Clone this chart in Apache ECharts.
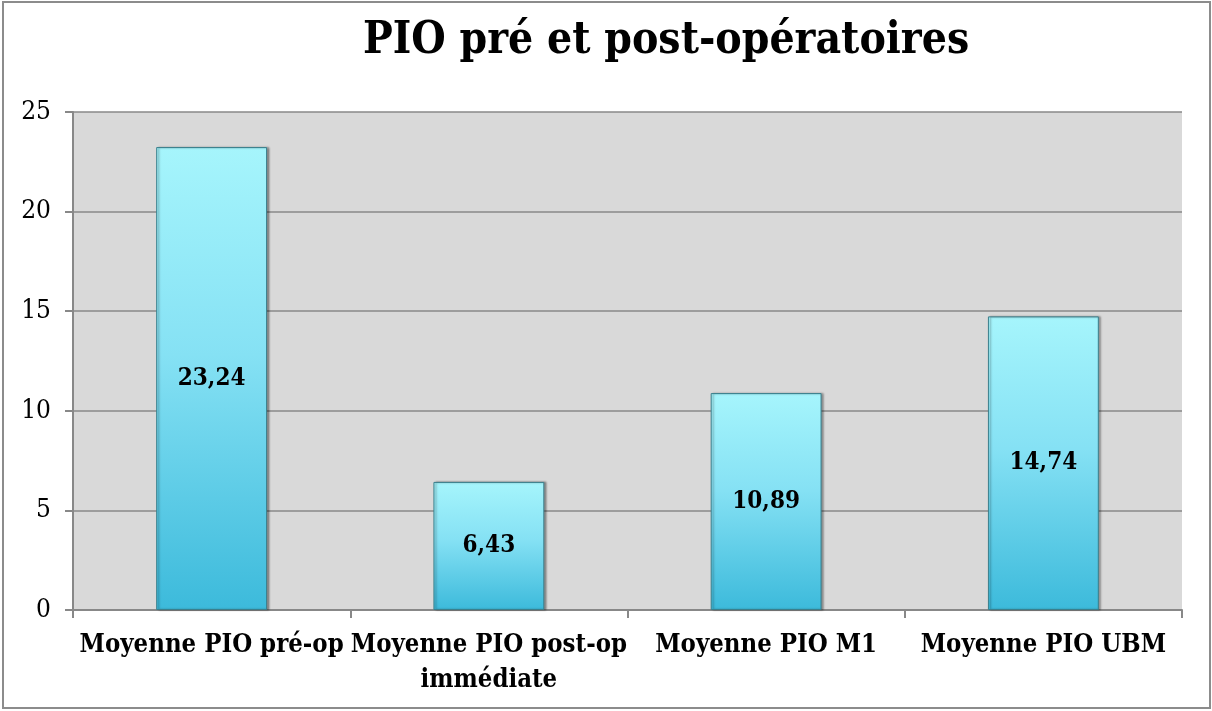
<!DOCTYPE html>
<html>
<head>
<meta charset="utf-8">
<script src="https://cdn.jsdelivr.net/npm/echarts@6/dist/echarts.min.js"></script>
<style>html,body{margin:0;padding:0;background:#fff}#c{width:1212px;height:711px}</style>
</head>
<body>
<div id="c"></div>
<script>
const titleText = 'PIO pré et post-opératoires';
const categories = ['Moyenne PIO pré-op', 'Moyenne PIO post-op\nimmédiate', 'Moyenne PIO M1', 'Moyenne PIO UBM'];
const values = [23.24, 6.43, 10.89, 14.74];
const yMin = 0, yMax = 25, yStep = 5;

const serif = '"DejaVu Serif Condensed", "DejaVu Serif", "Liberation Serif", serif';
const chart = echarts.init(document.getElementById('c'));
chart.setOption({
  backgroundColor: '#ffffff',
  animation: false,
  title: {
    text: titleText, left: 358, top: 15,
    textStyle: { fontFamily: serif, fontWeight: 'bold', fontSize: 44, color: '#000' }
  },
  graphic: [{
    type: 'rect', shape: { x: 3, y: 2, width: 1207, height: 706 },
    style: { fill: 'none', stroke: '#8c8c8c', lineWidth: 2 }, z: 100
  }],
  grid: { left: 73, right: 30, top: 112, bottom: 101, show: true, backgroundColor: '#d9d9d9', borderWidth: 0 },
  xAxis: {
    type: 'category', data: categories,
    axisLine: { lineStyle: { color: '#888', width: 2 } },
    axisTick: { show: true, length: 8, lineStyle: { color: '#888', width: 2 } },
    axisLabel: { fontFamily: serif, fontWeight: 'bold', fontSize: 25.5, color: '#000', margin: 18, lineHeight: 35, interval: 0 }
  },
  yAxis: {
    type: 'value', min: yMin, max: yMax, interval: yStep,
    axisLine: { show: true, lineStyle: { color: '#888', width: 2 } },
    axisTick: { show: true, length: 8, lineStyle: { color: '#888', width: 2 } },
    splitLine: { lineStyle: { color: '#888', width: 1.5 } },
    axisLabel: { fontFamily: serif, fontSize: 26, color: '#000', margin: 22,
      formatter: v => String(v).replace('.', ',') }
  },
  series: [{
    type: 'bar', data: values, barWidth: '40%',
    itemStyle: {
      color: new echarts.graphic.LinearGradient(0, 0, 0, 1, [
        { offset: 0, color: '#a6f5fc' },
        { offset: 0.45, color: '#85e1f4' },
        { offset: 1, color: '#3cbadb' }
      ]),
      borderColor: '#3a7f8c', borderWidth: 1,
      shadowColor: 'rgba(0,0,0,0.35)', shadowOffsetX: 2, shadowOffsetY: 0, shadowBlur: 2
    },
    label: {
      show: true, position: 'inside',
      fontFamily: serif, fontWeight: 'bold', fontSize: 24, color: '#000',
      formatter: p => p.value.toFixed(2).replace('.', ',')
    }
  }]
});
</script>
</body>
</html>
